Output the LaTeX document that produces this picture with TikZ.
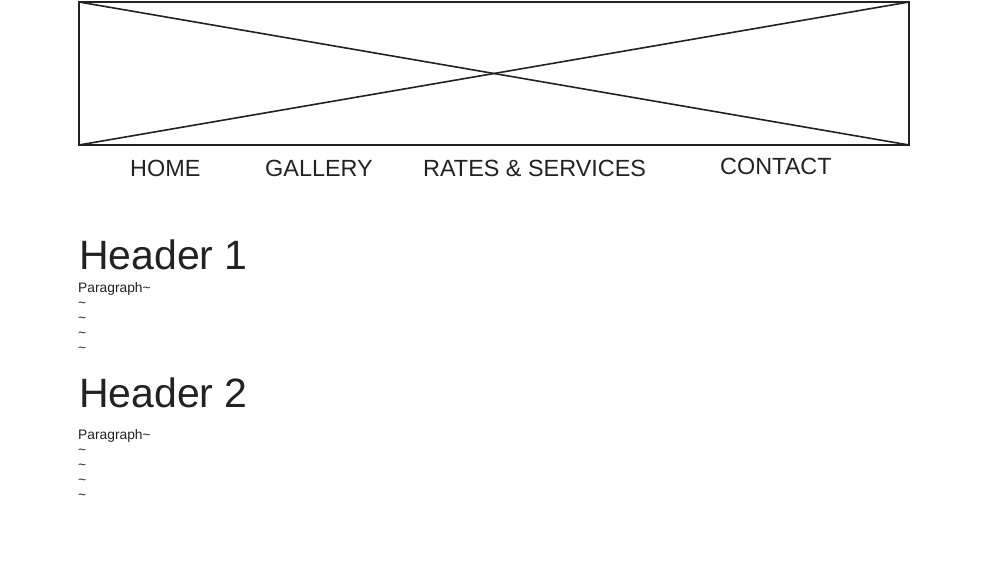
\documentclass[tikz,border=0pt]{standalone}
\usepackage{fontspec}
\setmainfont{Liberation Sans}
\definecolor{ink}{HTML}{222222}
\tikzset{
  frame/.style={draw=ink, line width=1.6pt},
  nav/.style={anchor=base west, inner sep=0pt, text=ink, font=\fontsize{23.4}{26}\selectfont},
  hdr/.style={anchor=base west, inner sep=0pt, text=ink, font=\fontsize{41}{46}\selectfont},
  para/.style={anchor=base west, inner sep=0pt, text=ink, font=\fontsize{13.8}{15}\selectfont},
}
\begin{document}
\begin{tikzpicture}[x=1pt,y=-1pt]
\useasboundingbox (0,0) rectangle (997,569);
\coordinate (tl) at (79,2);
\coordinate (tr) at (909,2);
\coordinate (bl) at (79,145);
\coordinate (br) at (909,145);
\draw[frame] (tl) rectangle (br);
\draw[frame] (tl) -- (br);
\draw[frame] (bl) -- (tr);
\node[nav] (home) at (130,177) {HOME};
\node[nav] (gallery) at (265,177) {GALLERY};
\node[nav] (rates) at (423,177) {RATES \& SERVICES};
\node[nav] (contact) at (720,175) {CONTACT};
\node[hdr] (h1) at (79,270) {Header 1};
\node[para] (p1) at (78,293) {Paragraph\textasciitilde};
\node[para] (p1a) at (78,308) {\textasciitilde};
\node[para] (p1b) at (78,323) {\textasciitilde};
\node[para] (p1c) at (78,338) {\textasciitilde};
\node[para] (p1d) at (78,353) {\textasciitilde};
\node[hdr] (h2) at (79,408) {Header 2};
\node[para] (p2) at (78,440) {Paragraph\textasciitilde};
\node[para] (p2a) at (78,455) {\textasciitilde};
\node[para] (p2b) at (78,470) {\textasciitilde};
\node[para] (p2c) at (78,485) {\textasciitilde};
\node[para] (p2d) at (78,500) {\textasciitilde};
\end{tikzpicture}
\end{document}
